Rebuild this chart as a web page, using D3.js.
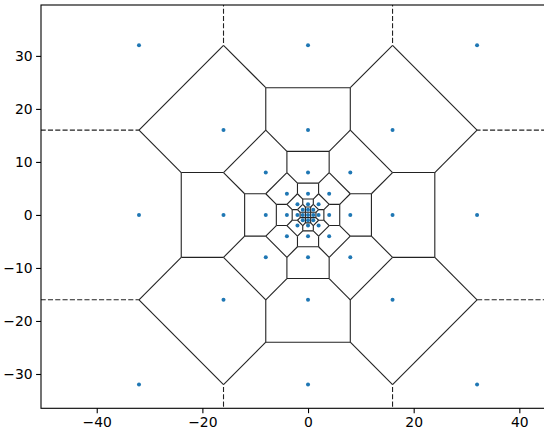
<!DOCTYPE html>
<html>
<head>
<meta charset="utf-8">
<script src="https://cdn.jsdelivr.net/npm/d3@7"></script>
<style>
  body { margin: 0; background: #fff; }
  text { font-family: "DejaVu Sans", sans-serif; font-size: 13.9px; fill: #000; }
</style>
</head>
<body>
<svg id="chart" width="544" height="429"></svg>
<script>
// generator points: the origin plus eight-point rings at 1, 2, 4, 8, 16, 32
var points = [
  [0, 0],
  [1, 0], [1, 1], [0, 1], [-1, 1], [-1, 0], [-1, -1], [0, -1], [1, -1],
  [2, 0], [2, 2], [0, 2], [-2, 2], [-2, 0], [-2, -2], [0, -2], [2, -2],
  [4, 0], [4, 4], [0, 4], [-4, 4], [-4, 0], [-4, -4], [0, -4], [4, -4],
  [8, 0], [8, 8], [0, 8], [-8, 8], [-8, 0], [-8, -8], [0, -8], [8, -8],
  [16, 0], [16, 16], [0, 16], [-16, 16], [-16, 0], [-16, -16], [0, -16], [16, -16],
  [32, 0], [32, 32], [0, 32], [-32, 32], [-32, 0], [-32, -32], [0, -32], [32, -32]
];
var xTicks = [-40, -20, 0, 20, 40];
var yTicks = [-30, -20, -10, 0, 10, 20, 30];
var xDomain = [-50.55, 50];
var yDomain = [-36.47, 39.6];

var plotLeft = 41, plotTop = 5, plotBottom = 408.3;
var pxPerUnit = 5.2825;

var x = d3.scaleLinear().domain(xDomain).range([plotLeft, plotLeft + (xDomain[1] - xDomain[0]) * pxPerUnit]);
var y = d3.scaleLinear().domain(yDomain).range([plotBottom, plotTop]);

var svg = d3.select('#chart');

svg.append('defs').append('clipPath').attr('id', 'plot-area')
  .append('rect')
  .attr('x', x.range()[0]).attr('y', plotTop)
  .attr('width', x.range()[1] - x.range()[0]).attr('height', plotBottom - plotTop);

// voronoi cells, bounded far outside the view so open ridges run off the plot
var B = 1000;
var delaunay = d3.Delaunay.from(points);
var voronoi = delaunay.voronoi([-B, -B, B, B]);

var onBound = function(p) {
  return Math.abs(Math.abs(p[0]) - B) < 1e-6 || Math.abs(Math.abs(p[1]) - B) < 1e-6;
};

var seen = {};
var finite = [], infinite = [];
points.forEach(function(d, i) {
  var poly = voronoi.cellPolygon(i);
  if (!poly) return;
  for (var k = 0; k < poly.length - 1; k++) {
    var a = poly[k], b = poly[k + 1];
    if (Math.hypot(a[0] - b[0], a[1] - b[1]) < 1e-9) continue;
    var ka = a[0].toFixed(4) + ',' + a[1].toFixed(4);
    var kb = b[0].toFixed(4) + ',' + b[1].toFixed(4);
    var key = ka < kb ? ka + '|' + kb : kb + '|' + ka;
    if (seen[key]) continue;
    seen[key] = true;
    var ea = onBound(a), eb = onBound(b);
    if (ea && eb) continue;
    if (ea || eb) infinite.push([a, b]);
    else finite.push([a, b]);
  }
});

var plot = svg.append('g').attr('clip-path', 'url(#plot-area)');

plot.selectAll('line.ridge').data(finite).enter().append('line')
  .attr('class', 'ridge')
  .attr('x1', function(d) { return x(d[0][0]); })
  .attr('y1', function(d) { return y(d[0][1]); })
  .attr('x2', function(d) { return x(d[1][0]); })
  .attr('y2', function(d) { return y(d[1][1]); })
  .style('stroke', '#222').style('stroke-width', 1.1);

plot.selectAll('line.open').data(infinite).enter().append('line')
  .attr('class', 'open')
  .attr('x1', function(d) { return x(d[0][0]); })
  .attr('y1', function(d) { return y(d[0][1]); })
  .attr('x2', function(d) { return x(d[1][0]); })
  .attr('y2', function(d) { return y(d[1][1]); })
  .style('stroke', '#222').style('stroke-width', 1.1)
  .style('stroke-dasharray', '5.1,2.2');

plot.selectAll('circle').data(points).enter().append('circle')
  .attr('cx', function(d) { return x(d[0]); })
  .attr('cy', function(d) { return y(d[1]); })
  .attr('r', 2)
  .style('fill', '#1f77b4');

// axes
var fmt = function(d) { return d < 0 ? '\u2212' + Math.abs(d) : d; };
var xAxis = svg.append('g').attr('transform', 'translate(0,' + plotBottom + ')')
  .call(d3.axisBottom(x).tickValues(xTicks).tickSize(4.9).tickPadding(3.5).tickFormat(fmt));
var yAxis = svg.append('g').attr('transform', 'translate(' + plotLeft + ',0)')
  .call(d3.axisLeft(y).tickValues(yTicks).tickSize(4.9).tickPadding(3.5).tickFormat(fmt));

[xAxis, yAxis].forEach(function(g) {
  g.select('.domain').remove();
  g.selectAll('line').style('stroke', '#000').style('stroke-width', 1.1);
  g.selectAll('text').attr('font-family', null).attr('font-size', null).style('fill', '#000');
});

// spines
svg.append('rect')
  .attr('x', plotLeft).attr('y', plotTop)
  .attr('width', x.range()[1] - plotLeft).attr('height', plotBottom - plotTop)
  .style('fill', 'none').style('stroke', '#000').style('stroke-width', 1.1);
</script>
</body>
</html>
